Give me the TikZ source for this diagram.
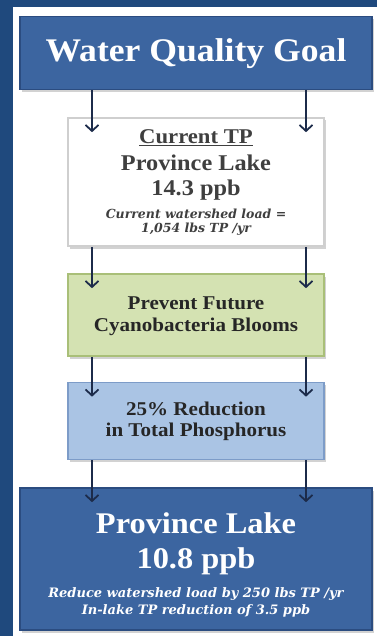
\documentclass[tikz,border=0pt]{standalone}
\usepackage{fontspec}
\setmainfont{Liberation Serif}[FakeStretch=1.08]
\newfontfamily\notefont{DejaVu Serif}
\usetikzlibrary{arrows.meta,shadows}

\definecolor{frameblue}{HTML}{1F497D}
\definecolor{goalblue}{HTML}{3C65A0}
\definecolor{goaledge}{HTML}{2B4C80}
\definecolor{greenfill}{HTML}{D4E2B2}
\definecolor{greenedge}{HTML}{A9BF78}
\definecolor{bluefill}{HTML}{AAC4E4}
\definecolor{blueedge}{HTML}{7D9CC8}
\definecolor{greyedge}{HTML}{CFCFCF}
\definecolor{arrowblue}{HTML}{1C2B4A}
\definecolor{greytext}{HTML}{3F3F3F}

% font size; line distances come from the struts below
\newcommand{\fsz}[1]{\fontsize{#1}{0}\selectfont}
% strut: height and depth of a line, in pt
\newcommand{\sline}[2]{\rule[-#2pt]{0pt}{\dimexpr#1pt+#2pt\relax}}
\newcommand{\note}{\notefont\itshape}

\tikzset{
  box/.style={line width=1.6pt, inner sep=0pt, align=center,
    font=\bfseries\fsz{10},
    drop shadow={shadow xshift=1.5pt, shadow yshift=-2.5pt, opacity=.35}},
  darkbox/.style={box, fill=goalblue, draw=goaledge, text=white,
    minimum width=352, minimum height=73},
  whitebox/.style={box, fill=white, draw=greyedge, text=greytext,
    minimum width=256, minimum height=128},
  greenbox/.style={box, fill=greenfill, draw=greenedge, text=black!85,
    minimum width=256, minimum height=82},
  bluebox/.style={box, fill=bluefill, draw=blueedge, text=black!85,
    minimum width=256, minimum height=77},
  flow/.style={draw=arrowblue, line width=1.8pt,
    -{Straight Barb[length=6pt, width=13pt, line width=1.8pt]}}
}

\begin{document}
\begin{tikzpicture}[x=1pt, y=-1pt]
\useasboundingbox (0,0) rectangle (377,636);

% frame
\fill[frameblue] (0,0) rectangle (377,636);
\fill[white] (13,7) rectangle (377,636);

% boxes, top to bottom
\node (goal) at (196,53) [darkbox] {\fsz{33}\sline{24}{5}Water Quality Goal};

\node (current) at (196,182) [whitebox] {%
  \fsz{21}\sline{15}{4}\underline{Current TP}\\
  \fsz{22.5}\sline{22}{5}Province Lake\\
  \fsz{22.5}\sline{19}{6}14.3 ppb\\
  \note\fsz{12.5}\sline{16}{3}Current watershed load =\\
  \note\fsz{12.5}\sline{10}{3}1,054 lbs TP /yr};

\node (blooms) at (196,315) [greenbox] {%
  \fsz{19.5}\sline{15}{5}Prevent Future\\
  \fsz{19.5}\sline{16}{5}Cyanobacteria Blooms};

\node (reduction) at (196,421) [bluebox] {%
  \fsz{19.5}\sline{15}{5}25\% Reduction\\
  \fsz{19.5}\sline{15}{5}in Total Phosphorus};

\node (target) at (196,559) [darkbox, minimum height=142] {%
  \fsz{30}\sline{33}{6}Province Lake\\
  \fsz{30}\sline{28}{7}10.8 ppb\\
  \note\fsz{13}\sline{21}{4}Reduce watershed load by 250 lbs TP /yr\\
  \note\fsz{13}\sline{12}{4}In-lake TP reduction of 3.5 ppb};

% arrow columns
\coordinate (left) at (92,0);
\coordinate (right) at (306,0);

\foreach \a/\b in {goal/current, current/blooms, blooms/reduction, reduction/target} {
  \draw[flow] (\a.south -| left) -- ([yshift=-15pt]\b.north -| left);
  \draw[flow] (\a.south -| right) -- ([yshift=-15pt]\b.north -| right);
}

\end{tikzpicture}
\end{document}
